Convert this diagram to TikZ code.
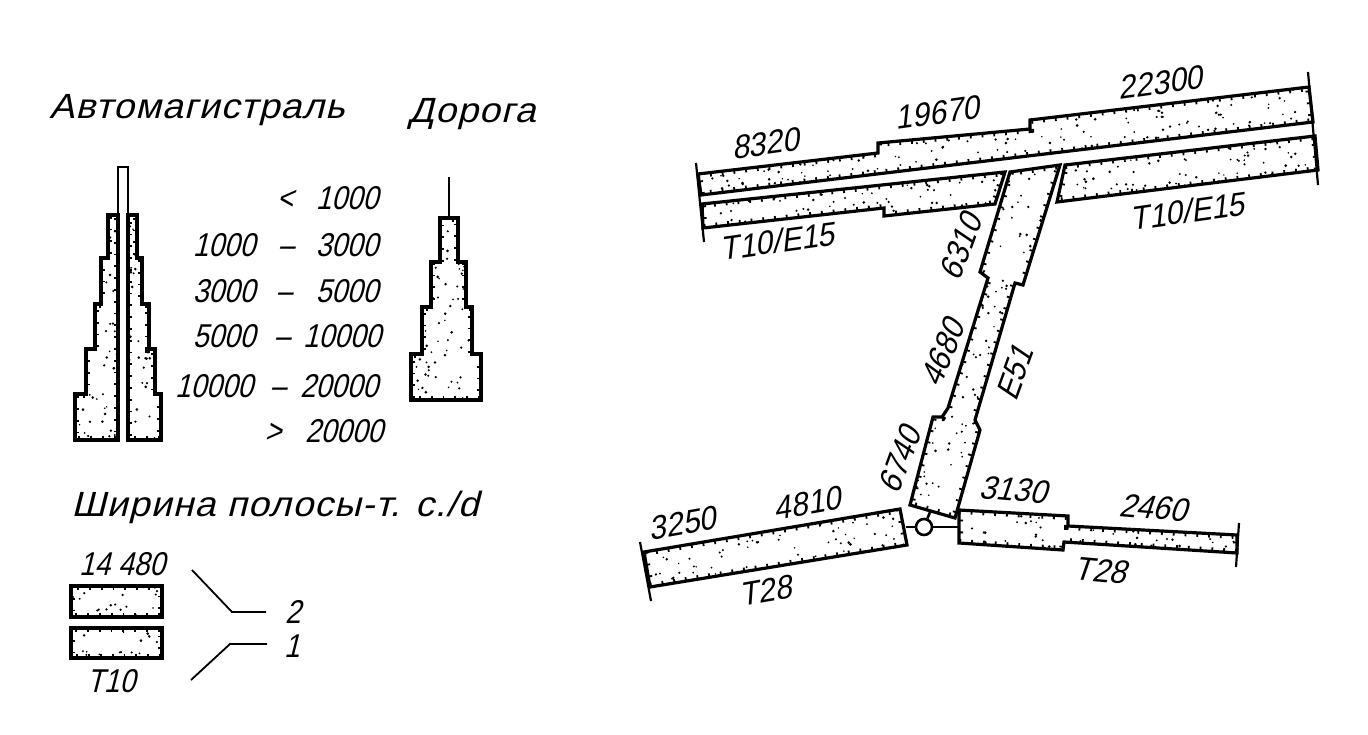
\documentclass[tikz,border=0pt]{standalone}
\usepackage{fontspec}
\usepackage{tikz}
\newfontfamily\hand[FakeSlant=0.25,FakeStretch=0.85]{Liberation Sans}
\newfontfamily\handflow[FakeSlant=0.25,FakeStretch=0.92]{Liberation Sans}
\newfontfamily\handwide[FakeSlant=0.25,FakeStretch=1.07,LetterSpace=3]{Liberation Sans}
\usetikzlibrary{positioning}
% stippled band: path, x0, y0, x1, y1, number of dots
\newcommand{\stip}[6]{
  \begin{scope}
    \clip #1;
    \foreach \i in {1,...,#6}{
      \pgfmathsetmacro{\px}{#2+rnd*(#4-#2)}
      \pgfmathsetmacro{\py}{#3+rnd*(#5-#3)}
      \pgfmathsetmacro{\pr}{0.8+0.7*rnd}
      \fill (\px,\py) circle (\pr pt);
    }
    \draw[line width=8pt, dash pattern=on 1.8pt off 10pt] #1;
  \end{scope}
  \draw[edge] #1;
}
\tikzset{
  edge/.style={line width=3.2pt, line join=miter},
  thinline/.style={line width=1.8pt},
  lab/.style={inner sep=0pt, text height=24pt, text depth=0pt, font=\hand\fontsize{33}{36}\selectfont},
  flow/.style={lab, font=\handflow\fontsize{33}{36}\selectfont},
  title/.style={inner sep=0pt, font=\handwide\fontsize{35}{38}\selectfont}
}
\begin{document}
\begin{tikzpicture}[x=1pt, y=-1pt]
  \useasboundingbox (0,0) rectangle (1368,735);
  \pgfmathsetseed{4711}

  % headings
  \node[title] (motorway) at (197,110) {Автомагистраль};
  \node[title] (road) at (472,114) {Дорога};
  \node[title] (widthnote) at (275,507) {Ширина полосы-т. с./d};

  % motorway pyramid
  \stip{(118,215) -- (108,215) -- (108,258) -- (101,258) -- (101,304) -- (95,304) -- (95,349) -- (86,349) -- (86,394) -- (75,394) -- (75,440) -- (118,440) -- cycle}{75}{215}{118}{440}{50}
  \stip{(128,215) -- (137,215) -- (137,258) -- (142,258) -- (142,304) -- (149,304) -- (149,349) -- (155,349) -- (155,394) -- (161,394) -- (161,440) -- (128,440) -- cycle}{128}{215}{161}{440}{40}
  \draw[line width=2.4pt] (118,440) -- (118,167) -- (128,167) -- (128,440);

  % road pyramid
  \draw[thinline] (449,177) -- (449,218);
  \stip{(440,218) -- (458,218) -- (458,262) -- (466,262) -- (466,307) -- (472,307) -- (472,354) -- (481,354) -- (481,400) -- (411,400) -- (411,354) -- (422,354) -- (422,307) -- (431,307) -- (431,262) -- (440,262) -- cycle}{411}{218}{481}{400}{85}

  % class limits
  \node[lab] (lt) at (285,198) {<};
  \node[lab] (a1) at (347,198) {1000};
  \node[lab] (b1) at (224,245) {1000};
  \node[lab] (d1) at (286,245) {–};
  \node[lab] (a2) at (347,245) {3000};
  \node[lab] (b2) at (224,290) {3000};
  \node[lab] (d2) at (284,290) {–};
  \node[lab] (a3) at (347,290) {5000};
  \node[lab] (b3) at (224,335) {5000};
  \node[lab] (d3) at (282,335) {–};
  \node[lab] (a4) at (342,335) {10000};
  \node[lab] (b4) at (214,385) {10000};
  \node[lab] (d4) at (278,385) {–};
  \node[lab] (a5) at (339,385) {20000};
  \node[lab] (gt) at (273,430) {>};
  \node[lab] (a6) at (344,430) {20000};

  % width sample
  \node[lab] (w14480) at (122,563) {14 480};
  \stip{(71,586) rectangle (162,617)}{71}{586}{162}{617}{18}
  \stip{(71,628) rectangle (162,658)}{71}{628}{162}{658}{18}
  \node[lab] (wT10) at (111,680) {T10};
  \node[lab] (two) at (293,611) {2};
  \node[lab] (one) at (292,645) {1};
  \coordinate (ln2a) at (192,570);
  \coordinate (ln2b) at (232,612);
  \coordinate (ln1a) at (191,680);
  \coordinate (ln1b) at (230,644);
  \draw[thinline, shorten >=19pt] (ln2a) -- (ln2b) -- (ln2b -| two.west);
  \draw[thinline, shorten >=17pt] (ln1a) -- (ln1b) -- (ln1b -| one.west);

  % main road, upper and lower carriageway
  \draw[thinline, line width=2.2pt] (696,163) -- (704,242);
  \draw[thinline, line width=2.2pt] (1308,72) -- (1318,185);
  \stip{(698,174) -- (878,153) -- (878,143) -- (1030,129) -- (1030,120) -- (1309,87) -- (1313,122) -- (701,195) -- cycle}{698}{87}{1313}{195}{400}
  \stip{(702,204) -- (1005,172) -- (995,204) -- (884,216) -- (884,208) -- (703,228) -- cycle}{702}{172}{1005}{228}{110}
  \stip{(1065,165) -- (1315,136) -- (1318,170) -- (1057,202) -- cycle}{1057}{136}{1318}{202}{110}

  % side road E51
  \stip{(1010,172) -- (980,272) -- (988,278) -- (948,408) -- (942,417) -- (933,417) -- (910,505) -- (955,518) -- (980,430) -- (975,420) -- (1015,283) -- (1023,285) -- (1060,165) -- cycle}{910}{165}{1060}{518}{270}

  % lower road
  \draw[thinline, line width=2.2pt] (640,542) -- (651,601);
  \draw[thinline, line width=2.2pt] (1239,523) -- (1236,567);
  \stip{(644,552) -- (900,509) -- (907,545) -- (650,587) -- cycle}{644}{509}{907}{587}{130}
  \stip{(959,510) -- (1068,516) -- (1068,526) -- (1237,535) -- (1237,553) -- (1064,542) -- (1063,550) -- (959,543) -- cycle}{959}{510}{1237}{553}{70}

  % junction
  \node[circle, draw, line width=2.6pt, minimum size=16pt, inner sep=0pt, fill=white] (jn) at (924,527) {};
  \coordinate (jl) at (906,527);
  \coordinate (jr) at (959,527);
  \coordinate (jt) at (930,512);
  \draw[edge, line width=2.6pt] (jl) -- (jn);
  \draw[edge, line width=2.6pt] (jn) -- (jr);
  \draw[edge, line width=2.6pt] (jn) -- (jt);

  % flows and road numbers
  \node[flow, rotate=8] (f8320) at (765,143) {8320};
  \node[flow, rotate=8] (f19670) at (937,112) {19670};
  \node[flow, rotate=8] (f22300) at (1160,82) {22300};
  \node[flow, rotate=8] (rtl) at (777,241) {T10/E15};
  \node[flow, rotate=8] (rtr) at (1187,211) {T10/E15};
  \node[flow, rotate=70] (f6310) at (960,247) {6310};
  \node[flow, rotate=68] (f4680) at (942,353) {4680};
  \node[flow, rotate=70] (rE51) at (1014,373) {E51};
  \node[flow, rotate=70] (f6740) at (899,460) {6740};
  \node[flow, rotate=10] (f3250) at (682,523) {3250};
  \node[flow, rotate=10] (f4810) at (807,503) {4810};
  \node[flow, rotate=10] (rbl) at (765,590) {T28};
  \node[flow, rotate=-5] (f3130) at (1013,489) {3130};
  \node[flow, rotate=-5] (f2460) at (1153,507) {2460};
  \node[flow, rotate=-5] (rbr) at (1100,570) {T28};
\end{tikzpicture}
\end{document}
